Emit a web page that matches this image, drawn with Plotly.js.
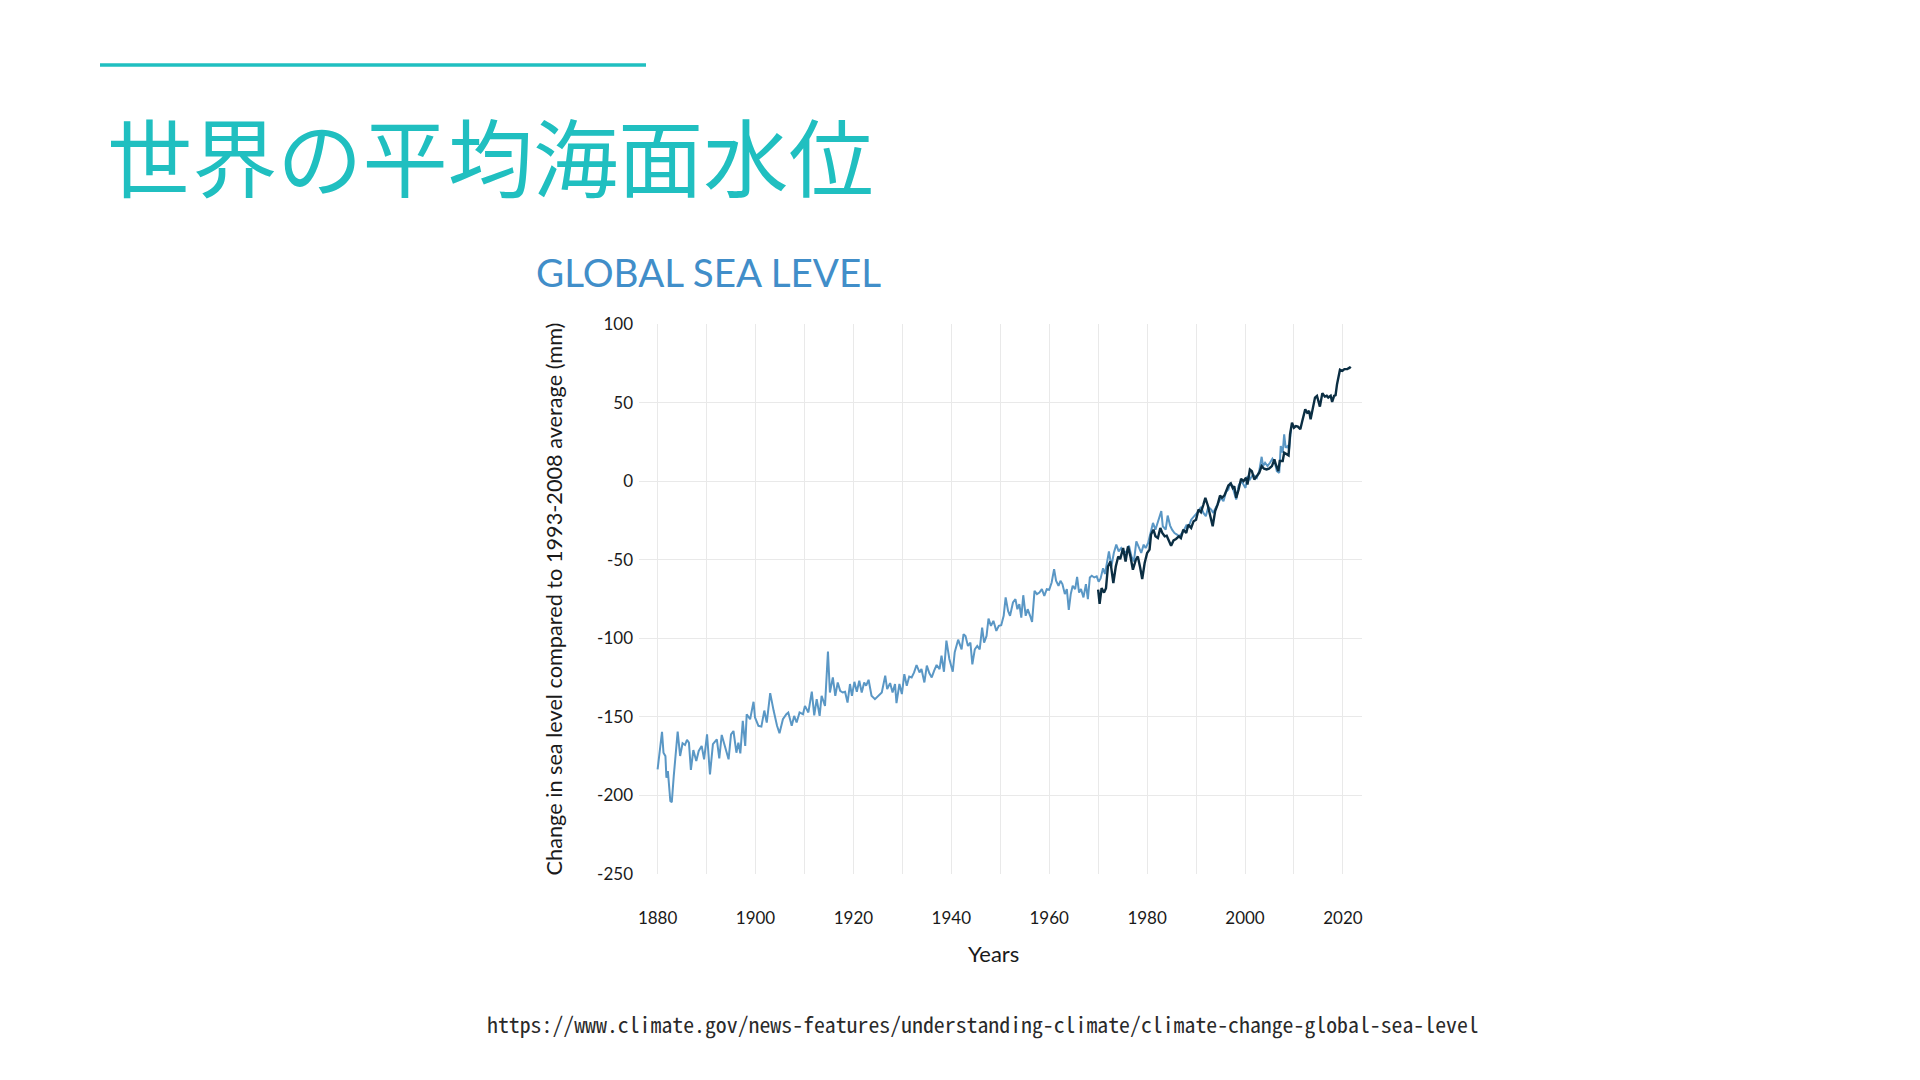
<!DOCTYPE html>
<html>
<head>
<meta charset="utf-8">
<script src="https://cdn.plot.ly/plotly-3.0.1.min.js"></script>
<style>
  html, body { margin: 0; padding: 0; background: #ffffff; }
  #chart { width: 1920px; height: 1080px; }
</style>
</head>
<body>
<div id="chart"></div>
<script>
// ---- Data ----
const pageTitle = "世界の平均海面水位";
const chartTitle = "GLOBAL SEA LEVEL";
const sourceUrl = "https://www.climate.gov/news-features/understanding-climate/climate-change-global-sea-level";
const xAxisTitle = "Years";
const yAxisTitle = "Change in sea level compared to 1993-2008 average (mm)";

const xTickVals = [1880, 1890, 1900, 1910, 1920, 1930, 1940, 1950, 1960, 1970, 1980, 1990, 2000, 2010, 2020];
const xTickText = ["1880", "", "1900", "", "1920", "", "1940", "", "1960", "", "1980", "", "2000", "", "2020"];
const yTickVals = [-250, -200, -150, -100, -50, 0, 50, 100];
const yTickText = ["-250", "-200", "-150", "-100", "-50", "0", "50", "100"];

// Long tide-gauge record (light blue)
const gaugeYears = [
  1880.0, 1880.9, 1881.2, 1881.6, 1881.8, 1882.1, 1882.6, 1882.9, 1883.3, 1884.1,
  1884.6, 1885.1, 1885.6, 1886.0, 1886.4, 1886.8, 1887.3, 1887.9, 1888.4, 1889.0,
  1889.5, 1890.1, 1890.7, 1891.3, 1892.1, 1892.6, 1893.1, 1893.8, 1894.5, 1895.0,
  1895.5, 1896.1, 1896.5, 1896.9, 1897.4, 1897.9, 1898.2, 1898.9, 1899.6, 1899.9,
  1900.6, 1901.2, 1901.8, 1902.3, 1903.0, 1903.7, 1904.4, 1904.9, 1905.6, 1906.3,
  1906.7, 1907.4, 1907.9, 1908.4, 1909.0, 1909.7, 1910.1, 1910.8, 1911.5, 1912.0,
  1912.5, 1913.1, 1913.5, 1914.2, 1914.8, 1915.2, 1915.8, 1916.3, 1916.8, 1917.3,
  1917.8, 1918.3, 1918.8, 1919.3, 1919.7, 1920.2, 1920.7, 1921.2, 1921.7, 1922.2,
  1922.6, 1923.1, 1923.7, 1924.4, 1925.1, 1925.8, 1926.5, 1926.9, 1927.5, 1928.0,
  1928.5, 1928.8, 1929.4, 1929.9, 1930.4, 1930.9, 1931.4, 1931.9, 1932.4, 1932.9,
  1933.5, 1933.9, 1934.5, 1935.0, 1935.5, 1936.0, 1936.5, 1937.0, 1937.6, 1938.0,
  1938.5, 1939.0, 1939.6, 1940.3, 1940.7, 1941.4, 1942.1, 1942.5, 1942.9, 1943.4,
  1943.9, 1944.3, 1944.8, 1945.3, 1945.8, 1946.3, 1946.7, 1947.2, 1947.6, 1948.1,
  1948.6, 1949.2, 1949.7, 1950.2, 1950.7, 1951.1, 1951.6, 1952.0, 1952.6, 1953.1,
  1953.5, 1953.9, 1954.3, 1954.7, 1955.2, 1955.6, 1956.1, 1956.5, 1957.0, 1957.5,
  1958.0, 1958.5, 1959.0, 1959.5, 1960.0, 1960.5, 1961.0, 1961.4, 1961.9, 1962.3,
  1962.7, 1963.2, 1963.6, 1964.0, 1964.4, 1964.8, 1965.3, 1965.7, 1966.1, 1966.5,
  1967.0, 1967.5, 1967.9, 1968.3, 1968.7, 1969.2, 1969.7, 1970.1, 1970.5, 1971.0,
  1971.4, 1971.8, 1972.2, 1972.7, 1973.2, 1973.7, 1974.2, 1974.7, 1975.2, 1975.8,
  1976.3, 1976.8, 1977.3, 1977.8, 1978.3, 1978.8, 1979.3, 1979.7, 1980.2, 1980.6,
  1981.2, 1981.7, 1982.1, 1982.5, 1982.9, 1983.2, 1983.8, 1984.2, 1984.7, 1985.1,
  1985.6, 1986.1, 1986.5, 1986.9, 1987.4, 1988.0, 1988.4, 1989.0, 1989.5, 1990.0,
  1990.5, 1991.0, 1991.5, 1992.0, 1992.5, 1993.1, 1993.5, 1994.1, 1994.6, 1995.1,
  1995.6, 1996.1, 1996.6, 1997.0, 1997.4, 1997.8, 1998.2, 1998.7, 1999.2, 1999.7,
  2000.1, 2000.5, 2001.0, 2001.4, 2001.9, 2002.4, 2002.9, 2003.4, 2003.7, 2004.1,
  2004.6, 2005.1, 2005.6, 2006.1, 2006.5, 2007.0, 2007.3, 2007.7, 2008.0, 2008.3,
  2008.7, 2009.0, 2009.4
];
const gaugeValues = [
  -183.4, -159.6, -172.8, -175.0, -188.7, -184.5, -203.6, -204.3, -187.7, -159.4,
  -174.9, -166.8, -167.9, -164.7, -166.4, -183.8, -171.1, -178.1, -171.7, -168.5,
  -177.0, -161.1, -186.6, -167.4, -164.3, -176.4, -161.5, -169.6, -177.0, -161.1,
  -159.0, -172.8, -166.4, -173.2, -152.6, -168.5, -148.3, -151.5, -140.4, -150.4,
  -155.7, -156.2, -146.0, -153.6, -134.9, -146.0, -155.7, -160.4, -151.5, -148.3,
  -147.2, -155.7, -149.4, -153.6, -147.2, -148.3, -143.0, -147.2, -134.0, -149.1,
  -138.7, -149.4, -136.6, -143.0, -108.5, -134.5, -124.9, -136.6, -128.1, -133.4,
  -134.5, -134.0, -140.9, -129.1, -136.6, -127.7, -134.0, -127.0, -134.5, -128.1,
  -130.2, -126.4, -136.6, -138.7, -136.6, -134.5, -123.8, -132.3, -128.5, -134.5,
  -129.1, -141.3, -129.1, -135.5, -122.8, -130.2, -124.3, -124.9, -121.7, -117.0,
  -121.7, -119.6, -128.1, -117.4, -122.1, -124.9, -120.6, -117.0, -119.6, -111.1,
  -121.3, -101.5, -113.2, -121.3, -108.9, -100.9, -107.0, -97.4, -98.5, -104.9,
  -102.8, -116.6, -107.0, -104.9, -107.0, -93.2, -102.8, -98.5, -87.4, -92.1,
  -88.9, -95.3, -92.1, -91.7, -85.7, -74.0, -82.6, -85.7, -77.2, -75.1,
  -81.5, -78.3, -86.8, -72.6, -85.7, -81.5, -85.7, -89.6, -69.8, -71.9,
  -70.9, -68.7, -73.0, -68.7, -69.1, -64.5, -56.0, -63.4, -66.6, -63.4,
  -65.5, -71.9, -68.7, -81.9, -71.9, -66.6, -68.7, -60.9, -70.9, -68.7,
  -74.0, -65.5, -75.1, -61.3, -60.2, -61.3, -60.6, -64.0, -61.9, -55.5,
  -59.1, -52.1, -44.7, -54.3, -45.7, -40.4, -44.7, -42.6, -45.7, -44.7,
  -41.1, -47.9, -51.1, -38.3, -41.5, -45.7, -40.4, -42.6, -39.4, -34.0,
  -26.6, -30.9, -26.6, -22.3, -19.1, -28.7, -30.9, -21.9, -28.3, -30.9,
  -33.0, -34.0, -35.1, -34.0, -31.9, -28.3, -29.8, -24.5, -22.8, -21.3,
  -19.1, -16.4, -20.2, -22.3, -16.4, -18.1, -20.2, -16.4, -13.8, -10.6,
  -12.8, -7.0, -5.3, -1.1, -3.2, -7.4, -11.7, -2.8, 0.0, -2.1,
  -4.3, 3.2, 1.1, 3.2, 3.6, 2.1, 6.4, 15.5, 9.6, 11.7,
  9.6, 11.7, 14.3, 11.7, 6.4, 5.3, 22.3, 18.1, 29.8, 21.3,
  22.3, 20.2, 33.0
];

// Recent record (dark)
const recentYears = [
  1970.0, 1970.3, 1970.7, 1971.2, 1971.6, 1972.0, 1972.5, 1973.1, 1973.6, 1974.1,
  1974.5, 1975.1, 1975.6, 1976.1, 1976.6, 1977.1, 1977.7, 1978.1, 1978.6, 1979.0,
  1979.5, 1980.0, 1980.5, 1980.8, 1981.3, 1981.7, 1982.2, 1982.7, 1983.1, 1983.6,
  1984.0, 1984.6, 1984.9, 1985.4, 1985.9, 1986.5, 1986.9, 1987.4, 1988.0, 1988.4,
  1989.0, 1989.5, 1990.0, 1990.5, 1991.0, 1991.5, 1991.9, 1992.4, 1992.8, 1993.4,
  1993.9, 1994.4, 1994.9, 1995.3, 1995.8, 1996.2, 1996.6, 1997.1, 1997.5, 1997.8,
  1998.2, 1998.7, 1999.2, 1999.7, 2000.2, 2000.5, 2001.0, 2001.4, 2001.9, 2002.4,
  2002.9, 2003.4, 2003.9, 2004.4, 2004.9, 2005.5, 2006.0, 2006.3, 2006.8, 2007.1,
  2007.7, 2008.0, 2008.5, 2008.9, 2009.2, 2009.6, 2010.0, 2010.4, 2010.8, 2011.3,
  2011.7, 2012.3, 2012.7, 2013.1, 2013.4, 2013.8, 2014.3, 2014.7, 2015.0, 2015.3,
  2015.8, 2016.3, 2016.7, 2017.0, 2017.5, 2017.8, 2018.2, 2018.5, 2018.8, 2019.4,
  2019.9, 2020.3, 2020.9, 2021.4, 2021.6
];
const recentValues = [
  -69.0, -78.1, -68.1, -70.9, -68.1, -54.3, -51.1, -64.9, -54.3, -47.9,
  -49.6, -42.6, -51.1, -41.5, -47.9, -56.4, -50.0, -47.9, -55.3, -62.3,
  -52.1, -45.7, -43.6, -34.0, -30.9, -35.1, -36.2, -29.8, -33.0, -35.1,
  -34.7, -38.3, -41.1, -37.7, -36.8, -35.1, -36.2, -30.9, -33.0, -27.7,
  -29.8, -25.5, -24.5, -18.1, -19.8, -14.9, -10.6, -15.5, -21.3, -28.7,
  -19.1, -14.9, -9.1, -10.6, -9.1, -6.4, -2.8, -1.5, -4.3, -3.2,
  -10.6, -5.3, 1.5, 0.0, 2.1, -2.1, 7.4, 6.4, 1.1, 3.2,
  5.3, 9.6, 7.9, 7.4, 7.9, 9.6, 13.8, 10.6, 6.4, 12.8,
  12.8, 18.1, 17.0, 16.4, 29.8, 37.2, 34.0, 35.1, 34.7, 33.0,
  38.3, 45.7, 43.6, 44.7, 39.4, 44.7, 53.2, 54.3, 51.1, 47.4,
  56.0, 53.8, 54.3, 53.2, 54.3, 50.4, 54.3, 54.7, 61.7, 70.9,
  70.2, 71.3, 71.3, 72.3, 71.7
];

// ---- Page geometry (styling) ----
const W = 1920, H = 1080;
const plotL = 639, plotR = 1362, plotT = 324, plotB = 874;
const px = v => (v - plotL) / (plotR - plotL);
const py = v => (plotB - v) / (plotB - plotT);

const teal = "#20bfc0";
const textFamily = "Lato, 'Noto Sans', sans-serif";
const tickFont = { family: textFamily, size: 17, color: "#1a1a1a" };

const traces = [
  {
    x: gaugeYears, y: gaugeValues, type: "scatter", mode: "lines",
    line: { color: "#5a97c5", width: 2 }, hoverinfo: "skip", showlegend: false
  },
  {
    x: recentYears, y: recentValues, type: "scatter", mode: "lines",
    line: { color: "#0b2e43", width: 2.4 }, hoverinfo: "skip", showlegend: false
  }
];

const layout = {
  width: W, height: H,
  paper_bgcolor: "#ffffff", plot_bgcolor: "#ffffff",
  margin: { l: plotL, r: W - plotR, t: plotT, b: H - plotB, pad: 0 },
  showlegend: false,
  xaxis: {
    range: [1876.2, 2023.9],
    tickmode: "array", tickvals: xTickVals, ticktext: xTickText,
    showgrid: true, gridcolor: "#e9e9e9", gridwidth: 1,
    zeroline: false, showline: false, ticks: "",
    ticklabelstandoff: 32,
    tickfont: tickFont,
    fixedrange: true
  },
  yaxis: {
    range: [-250, 100],
    tickmode: "array", tickvals: yTickVals, ticktext: yTickText,
    showgrid: true, gridcolor: "#e9e9e9", gridwidth: 1,
    zeroline: false, showline: false, ticks: "",
    ticklabelstandoff: 5,
    tickfont: tickFont,
    title: { text: yAxisTitle, standoff: 28, font: { family: textFamily, size: 21.7, color: "#1a1a1a" } },
    fixedrange: true
  },
  shapes: [
    { type: "line", xref: "paper", yref: "paper",
      x0: px(100), x1: px(646), y0: py(65), y1: py(65),
      line: { color: teal, width: 3.5 } }
  ],
  annotations: [
    { text: pageTitle, xref: "paper", yref: "paper", x: px(105), y: py(154),
      xanchor: "left", yanchor: "middle", showarrow: false,
      font: { family: "'Noto Sans CJK JP', sans-serif", size: 85.2, color: teal, weight: 400 } },
    { text: chartTitle, xref: "paper", yref: "paper", x: px(534), y: py(272),
      xanchor: "left", yanchor: "middle", showarrow: false,
      font: { family: textFamily, size: 38.6, color: "#418ec9" } },
    { text: xAxisTitle, xref: "paper", yref: "paper", x: px(993), y: py(953),
      xanchor: "center", yanchor: "middle", showarrow: false,
      font: { family: textFamily, size: 22, color: "#1a1a1a" } },
    { text: sourceUrl, xref: "paper", yref: "paper", x: px(983), y: py(1023),
      xanchor: "center", yanchor: "middle", showarrow: false,
      font: { family: "'Noto Sans Mono CJK JP', 'DejaVu Sans Mono', monospace", size: 21.8, color: "#2a2a2a" } }
  ]
};

Plotly.newPlot("chart", traces, layout, { displayModeBar: false, staticPlot: true });
</script>
</body>
</html>
